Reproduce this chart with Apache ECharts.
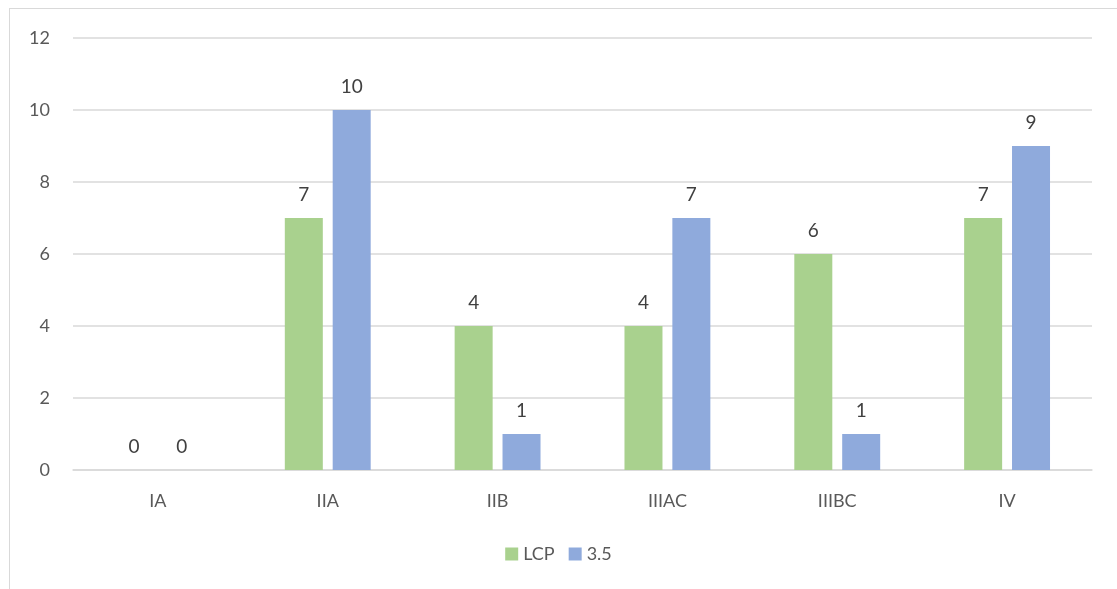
<!DOCTYPE html>
<html>
<head>
<meta charset="utf-8">
<script src="https://cdn.jsdelivr.net/npm/echarts@6/dist/echarts.min.js"></script>
<style>
  html, body { margin: 0; padding: 0; background: #fff; }
  #frame {
    position: absolute; left: 9px; top: 8px; width: 1200px; height: 700px;
    border: 1px solid #d9d9d9; box-sizing: border-box;
  }
  #chart { position: absolute; left: 0; top: 0; width: 1117px; height: 589px; }
</style>
</head>
<body>
<div id="frame"></div>
<div id="chart"></div>
<script>
const categories = ["IA", "IIA", "IIB", "IIIAC", "IIIBC", "IV"];
const lcpValues = [0, 7, 4, 4, 6, 7];
const v35Values = [0, 10, 1, 7, 1, 9];
const yTicks = { min: 0, max: 12, interval: 2 };

const font = "Lato, 'Open Sans', sans-serif";

const chart = echarts.init(document.getElementById("chart"));

const labelStyle = {
  show: true,
  position: "top",
  distance: 14,
  color: "#404040",
  fontSize: 19,
  fontFamily: font
};

chart.setOption({
  animation: false,
  grid: { left: 73, right: 25, top: 38, bottom: 119 },
  legend: {
    bottom: 21,
    left: "center",
    itemWidth: 13,
    itemHeight: 13,
    itemGap: 14,
    icon: "rect",
    textStyle: { color: "#595959", fontSize: 18, fontFamily: font },
    data: ["LCP", "3.5"]
  },
  xAxis: {
    type: "category",
    data: categories,
    axisLine: { lineStyle: { color: "#d9d9d9", width: 1.5 } },
    axisTick: { show: false },
    axisLabel: { color: "#595959", fontSize: 18, fontFamily: font, margin: 22 }
  },
  yAxis: {
    type: "value",
    min: yTicks.min,
    max: yTicks.max,
    interval: yTicks.interval,
    axisLine: { show: false },
    axisTick: { show: false },
    splitLine: { lineStyle: { color: "#d9d9d9", width: 1.5 } },
    axisLabel: { color: "#595959", fontSize: 18, fontFamily: font, margin: 23 }
  },
  series: [
    {
      name: "LCP",
      type: "bar",
      data: lcpValues,
      barWidth: 38,
      barGap: "26%",
      itemStyle: { color: "#a9d18e" },
      label: labelStyle
    },
    {
      name: "3.5",
      type: "bar",
      data: v35Values,
      barWidth: 38,
      itemStyle: { color: "#8faadc" },
      label: labelStyle
    }
  ]
});
</script>
</body>
</html>
